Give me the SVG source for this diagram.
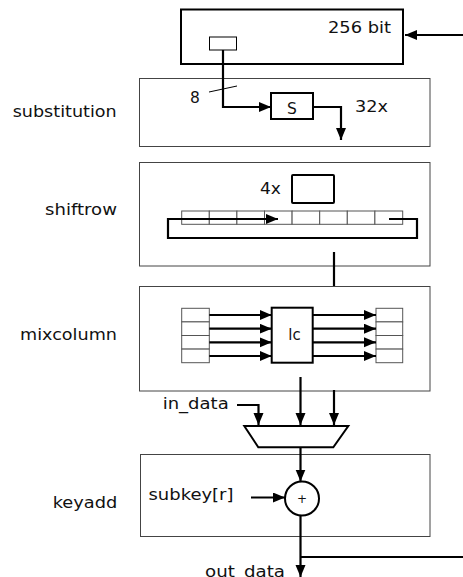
<svg xmlns="http://www.w3.org/2000/svg" width="463" height="577" viewBox="0 0 463 577">
<defs>
<marker id="ah" markerUnits="userSpaceOnUse" markerWidth="13" markerHeight="11" refX="12" refY="5" orient="auto">
<path d="M0,0 L12,5 L0,10 z" fill="#000"/>
</marker>
<style>
text{font-family:"DejaVu Sans","Liberation Sans",sans-serif;font-size:15.5px;fill:#111}
.stage{fill:none;stroke:#444;stroke-width:1}
.thick{fill:none;stroke:#000;stroke-width:2}
.cell{fill:#fff;stroke:#555;stroke-width:1}
.w{fill:none;stroke:#000;stroke-width:2.2}
.wa{fill:none;stroke:#000;stroke-width:2.2;marker-end:url(#ah)}
.lbl{text-anchor:end}
</style>
</defs>
<rect width="463" height="577" fill="#fff"/>

<g id="state">
<rect x="181" y="9.5" width="222" height="54.5" class="thick"/>
<rect x="209.5" y="37" width="27" height="13" fill="#fff" stroke="#000" stroke-width="1"/>
<text x="328" y="33" textLength="63" lengthAdjust="spacingAndGlyphs">256 bit</text>
</g>

<g id="substitution">
<rect x="139.5" y="78.5" width="290.5" height="68" class="stage"/>
<text x="12.7" y="116.7" textLength="104" lengthAdjust="spacingAndGlyphs">substitution</text>
<text x="190" y="103">8</text>
<line x1="209" y1="92" x2="237" y2="86" stroke="#000" stroke-width="1"/>
<text x="355" y="112" textLength="33" lengthAdjust="spacingAndGlyphs">32x</text>
</g>
<g id="sbox">
<rect x="271" y="93" width="42" height="26" class="thick" fill="#fff"/>
<text x="292" y="114" text-anchor="middle">S</text>
</g>

<g id="shiftrow">
<rect x="139.5" y="162.5" width="290.5" height="103.5" class="stage"/>
<text x="45" y="215" textLength="72" lengthAdjust="spacingAndGlyphs">shiftrow</text>
<text x="260" y="194" textLength="21" lengthAdjust="spacingAndGlyphs">4x</text>
<rect x="292" y="175" width="42" height="28" rx="1" class="thick"/>
<rect x="181.7" y="211" width="27.6" height="13.3" class="cell"/>
<rect x="209.3" y="211" width="27.6" height="13.3" class="cell"/>
<rect x="236.9" y="211" width="27.6" height="13.3" class="cell"/>
<rect x="264.5" y="211" width="27.6" height="13.3" class="cell"/>
<rect x="292.1" y="211" width="27.6" height="13.3" class="cell"/>
<rect x="319.7" y="211" width="27.6" height="13.3" class="cell"/>
<rect x="347.3" y="211" width="27.6" height="13.3" class="cell"/>
<rect x="374.9" y="211" width="27.8" height="13.3" class="cell"/>
</g>

<g id="mixcolumn">
<rect x="139.5" y="286.5" width="290.5" height="104.5" class="stage"/>
<text x="20" y="340" textLength="97" lengthAdjust="spacingAndGlyphs">mixcolumn</text>
<rect x="181.7" y="308.3" width="27.6" height="13.6" class="cell"/>
<rect x="181.7" y="321.9" width="27.6" height="13.6" class="cell"/>
<rect x="181.7" y="335.5" width="27.6" height="13.6" class="cell"/>
<rect x="181.7" y="349.1" width="27.6" height="13.6" class="cell"/>
<rect x="376" y="308.3" width="26.7" height="13.6" class="cell"/>
<rect x="376" y="321.9" width="26.7" height="13.6" class="cell"/>
<rect x="376" y="335.5" width="26.7" height="13.6" class="cell"/>
<rect x="376" y="349.1" width="26.7" height="13.6" class="cell"/>
</g>
<g id="lc">
<rect x="271.7" y="307.7" width="41" height="55" class="thick" fill="#fff"/>
<text x="288.3" y="340" textLength="12.4" lengthAdjust="spacingAndGlyphs">lc</text>
</g>

<g id="mux">
<polygon points="244.3,426 348.3,426 333.3,447.3 258.3,447.3" fill="#fff" stroke="#000" stroke-width="2"/>
<text x="162.7" y="409" textLength="66" lengthAdjust="spacingAndGlyphs">in_data</text>
</g>

<g id="keyadd">
<rect x="140.5" y="454.5" width="289.5" height="82" class="stage"/>
<text x="52.7" y="508" textLength="64.6" lengthAdjust="spacingAndGlyphs">keyadd</text>
<text x="148.5" y="500" textLength="85" lengthAdjust="spacingAndGlyphs">subkey[r]</text>
</g>
<g id="xor">
<circle cx="302" cy="498.5" r="17" fill="#fff" stroke="#000" stroke-width="2"/>
<text x="302" y="503" text-anchor="middle" style="font-size:12px">+</text>
</g>

<g id="output">
<text x="205" y="576.5" textLength="80" lengthAdjust="spacingAndGlyphs">out_data</text>
</g>

<g id="connectors">
<line x1="463" y1="35" x2="405" y2="35" class="wa"/>
<path d="M223,50 V107 H271" class="wa"/>
<path d="M313,107 H341 V140" class="wa"/>
<path d="M389,219 H417 V238 H168 V219 H278" class="wa"/>
<line x1="334" y1="252" x2="334" y2="286" class="w"/>
<line x1="209.3" y1="315" x2="271.7" y2="315" class="wa"/>
<line x1="209.3" y1="328.7" x2="271.7" y2="328.7" class="wa"/>
<line x1="209.3" y1="342.3" x2="271.7" y2="342.3" class="wa"/>
<line x1="209.3" y1="356" x2="271.7" y2="356" class="wa"/>
<line x1="312.7" y1="315" x2="376" y2="315" class="wa"/>
<line x1="312.7" y1="328.7" x2="376" y2="328.7" class="wa"/>
<line x1="312.7" y1="342.3" x2="376" y2="342.3" class="wa"/>
<line x1="312.7" y1="356" x2="376" y2="356" class="wa"/>
<line x1="300.5" y1="377" x2="300.5" y2="425" class="wa"/>
<line x1="334" y1="390" x2="334" y2="425" class="wa"/>
<path d="M237,405 H258.5 V425" class="wa"/>
<line x1="300.5" y1="447" x2="300.5" y2="481.5" class="wa"/>
<line x1="251" y1="497.5" x2="285" y2="497.5" class="wa"/>
<line x1="300.5" y1="515.5" x2="300.5" y2="577" class="wa"/>
<line x1="300.5" y1="557" x2="463" y2="557" class="w"/>
</g>
</svg>
